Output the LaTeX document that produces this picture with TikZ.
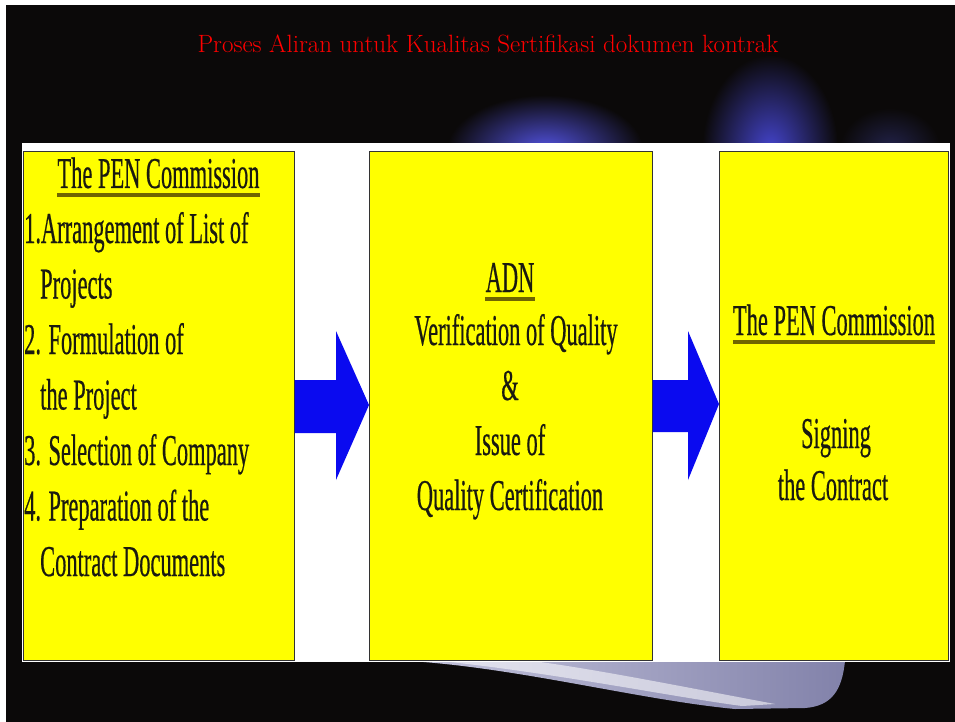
\documentclass[tikz,border=0pt]{standalone}
\usepackage{fontspec}
\newfontfamily\cond[FakeStretch=0.51,FakeBold=0.4]{Liberation Serif}
\definecolor{bg}{HTML}{0B0909}
\definecolor{boxyellow}{HTML}{FFFF00}
\definecolor{arrowblue}{HTML}{0A0AF0}
\definecolor{txt}{HTML}{1A1A10}
\definecolor{ulinec}{HTML}{706500}
\definecolor{glowA}{HTML}{5252E0}
\definecolor{glowB}{HTML}{4444CC}
\definecolor{glowC}{HTML}{22224A}
\definecolor{swA}{HTML}{C4C4DC}
\definecolor{swB}{HTML}{8282AA}
\begin{document}
\begin{tikzpicture}[x=1pt,y=-1pt,
  box/.style={draw=black!80, line width=0.8pt, fill=boxyellow, inner sep=0pt, anchor=north west},
  lbl/.style={inner sep=0pt, font=\cond\fontsize{44}{44}\selectfont, text=txt},
  uline/.style={draw=ulinec, line width=4pt},
  blockarrow/.style={fill=arrowblue, draw=none},
  glow/.style={draw=none}]
\useasboundingbox (0,0) rectangle (955,722);
% frame and background
\fill[white] (0,0) rectangle (955,722);
\fill[bg] (6,5) rectangle (955,722);
% blue glows
\shade[glow, inner color=glowA, outer color=bg] (545,150) ellipse (98 and 55);
\shade[glow, inner color=glowB, outer color=bg] (770,150) ellipse (68 and 95);
\shade[glow, inner color=glowC, outer color=bg] (890,148) ellipse (50 and 40);
% title
\node[inner sep=0pt, anchor=base, text=red, font=\fontsize{25}{25}\selectfont] (title) at (488,52.5)
  {Proses Aliran untuk Kualitas Sertifikasi dokumen kontrak};
% swoosh below
\shade[left color=swA, right color=swB] (410,661) -- (845,661)
  .. controls (842,690) and (832,706) .. (805,708) -- (735,709)
  .. controls (640,700) and (520,668) .. (410,661) -- cycle;
\fill[white, opacity=0.55] (450,662) .. controls (560,674) and (680,698) .. (742,706)
  -- (775,704) .. controls (700,690) and (600,670) .. (540,662) -- cycle;
% white band
\fill[white] (22,143) rectangle (950,662);
% boxes
\node[box, minimum width=271pt, minimum height=509pt] (b1) at (23,151) {};
\node[box, minimum width=283pt, minimum height=509pt] (b2) at (369,151) {};
\node[box, minimum width=229pt, minimum height=509pt] (b3) at (719,151) {};
% block arrows
\fill[blockarrow] (b1.east |- 0,380) -- (336,380) -- (336,331) -- (b2.west |- 0,405)
  -- (336,480) -- (336,433) -- (b1.east |- 0,433) -- cycle;
\fill[blockarrow] (b2.east |- 0,380) -- (688,380) -- (688,331) -- (b3.west |- 0,404)
  -- (688,480) -- (688,432) -- (b2.east |- 0,432) -- cycle;
% left box text
\node[lbl, anchor=base] (l0) at (158.5,188) {The PEN Commission};
\draw[uline] ([yshift=-7pt]l0.base west) -- ([yshift=-7pt]l0.base east);
\node[lbl, anchor=base west] (l1) at (24,243) {1.Arrangement of List of};
\node[lbl, anchor=base west] (l2) at (40,298.5) {Projects};
\node[lbl, anchor=base west] (l3) at (24,354) {2. Formulation of};
\node[lbl, anchor=base west] (l4) at (40,409.5) {the Project};
\node[lbl, anchor=base west] (l5) at (24,465) {3. Selection of Company};
\node[lbl, anchor=base west] (l6) at (24,520.5) {4. Preparation of the};
\node[lbl, anchor=base west] (l7) at (40,576) {Contract Documents};
% middle box text
\node[lbl, anchor=base] (m0) at (510,292) {ADN};
\draw[uline] ([yshift=-7pt]m0.base west) -- ([yshift=-7pt]m0.base east);
\node[lbl, anchor=base] (m1) at (516,345) {Verification of Quality};
\node[lbl, anchor=base] (m2) at (510,400) {\&};
\node[lbl, anchor=base] (m3) at (510,455) {Issue of};
\node[lbl, anchor=base] (m4) at (510,510) {Quality Certification};
% right box text
\node[lbl, anchor=base] (r0) at (834,335) {The PEN Commission};
\draw[uline] ([yshift=-7pt]r0.base west) -- ([yshift=-7pt]r0.base east);
\node[lbl, anchor=base] (r1) at (836,448) {Signing};
\node[lbl, anchor=base] (r2) at (833,500) {the Contract};
\end{tikzpicture}
\end{document}
